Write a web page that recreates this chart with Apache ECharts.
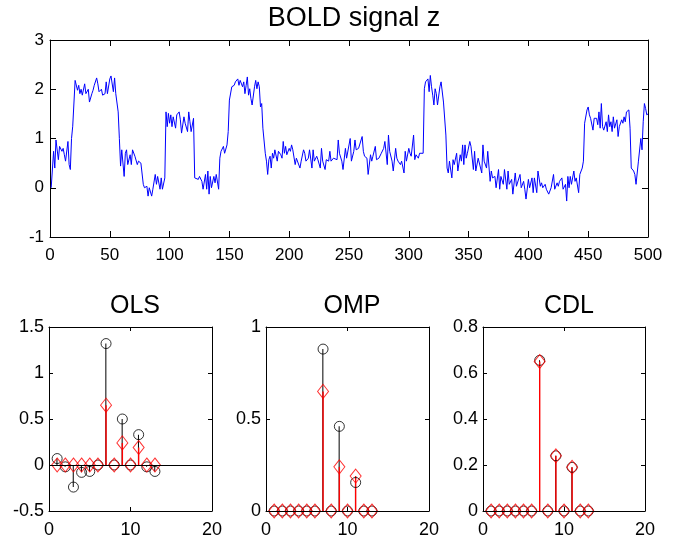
<!DOCTYPE html>
<html>
<head>
<meta charset="utf-8">
<script src="https://cdn.jsdelivr.net/npm/echarts@6/dist/echarts.min.js"></script>
<style>
html,body{margin:0;padding:0;background:#fff;}
#chart{width:690px;height:541px;}
</style>
</head>
<body>
<div id="chart"></div>
<script>
// ---- BOLD signal z: [time, value] samples ----
const boldSamples = [
[1,0.0],[3,0.74],[4,0.40],[5,0.97],[7,0.57],[8,0.84],[10,0.74],[11,0.80],[12,0.67],[13,0.54],[15,0.94],[16,0.47],[17,0.37],[18,1.0],[19,1.25],
[21,2.18],[23,1.98],[24,2.08],[25,1.91],[26,2.0],[27,1.88],[29,2.11],[30,1.91],[32,2.0],[33,1.74],[35,1.91],[36,1.98],[37,2.08],[39,2.23],[40,2.11],
[41,1.95],[43,2.0],[44,1.88],[46,1.91],[47,2.15],[48,1.91],[50,2.21],[51,2.27],[53,1.95],[54,2.23],[55,1.91],[57,1.54],[58,1.0],[59,0.44],[60,0.77],
[62,0.23],[63,0.70],[64,0.77],[65,0.47],[67,0.67],[68,0.47],[69,0.77],[71,0.64],[72,0.60],[73,0.47],[74,0.54],[76,0.50],[78,0.07],[79,0.0],[81,0.03],
[82,-0.17],[83,0.0],[85,-0.17],[86,-0.03],[88,0.27],[89,0.07],[90,0.23],[92,-0.03],[93,0.20],[94,-0.03],[96,0.20],[97,1.54],[98,1.24],[99,1.51],[100,1.31],
[101,1.48],[102,1.24],[103,1.44],[105,1.21],[106,1.48],[108,1.54],[109,1.38],[110,1.11],[112,1.44],[113,1.31],[115,1.14],[116,1.54],[117,1.34],[118,1.14],[120,1.41],
[121,0.20],[122,0.23],[124,0.17],[125,0.23],[127,0.13],[128,-0.03],[129,0.0],[130,0.27],[131,-0.03],[132,0.34],[133,-0.13],[134,0.23],[135,0.0],[137,0.23],[138,0.10],
[139,0.27],[141,-0.03],[142,0.60],[143,0.74],[145,0.84],[146,0.70],[148,0.87],[149,1.14],[150,1.78],[151,1.74],[152,2.05],[154,2.08],[155,2.15],[156,2.18],[157,2.21],
[158,2.08],[159,2.18],[161,2.05],[162,2.15],[163,1.91],[164,2.08],[165,2.25],[166,1.88],[167,2.01],[168,1.81],[169,1.68],[171,2.05],[172,2.18],[173,2.01],[174,2.15],
[175,2.05],[176,1.64],[177,1.71],[178,1.21],[180,0.70],[181,0.54],[182,0.27],[183,0.57],[184,0.64],[185,0.40],[186,0.70],[187,0.60],[188,0.77],[190,0.54],[191,0.74],
[192,0.77],[193,0.67],[194,0.60],[195,0.94],[196,0.70],[197,0.84],[198,0.67],[200,0.80],[201,0.74],[202,0.87],[203,0.77],[205,0.47],[206,0.60],[207,0.57],[209,0.40],
[210,0.54],[212,0.77],[213,0.70],[214,0.54],[216,0.60],[217,0.77],[219,0.40],[220,0.77],[221,0.54],[223,0.64],[224,0.57],[226,0.40],[227,0.80],[228,0.54],[230,0.37],
[231,0.57],[233,0.54],[234,0.74],[235,0.54],[237,0.60],[238,0.64],[240,0.57],[241,0.97],[242,0.70],[244,0.54],[245,0.37],[247,0.80],[248,0.60],[249,0.57],[251,1.00],
[252,0.54],[254,0.74],[255,0.97],[256,0.77],[258,0.80],[259,0.84],[261,1.04],[262,0.74],[263,0.64],[265,0.60],[266,0.27],[268,0.67],[269,0.54],[270,0.64],[272,0.84],
[273,0.57],[275,0.60],[276,0.64],[277,0.70],[279,0.80],[280,0.94],[282,0.47],[283,1.07],[284,0.74],[286,0.54],[287,0.34],[289,0.80],[290,0.60],[291,0.54],[293,0.47],
[294,0.54],[296,0.30],[297,0.74],[298,0.54],[300,0.80],[301,0.70],[302,0.64],[304,1.07],[305,0.57],[306,0.67],[308,0.60],[309,0.70],[310,0.74],[312,0.70],[313,2.01],
[314,2.15],[316,2.21],[317,1.95],[318,2.28],[319,2.05],[320,1.88],[321,1.68],[322,2.01],[323,1.91],[324,1.68],[326,2.05],[327,2.15],[328,2.11],[329,1.74],[330,1.74],
[331,1.07],[332,0.40],[333,0.30],[334,0.54],[336,0.20],[337,0.57],[338,0.47],[340,0.70],[341,0.34],[343,0.67],[344,0.54],[345,0.87],[346,0.47],[347,0.87],[348,0.60],
[349,0.70],[351,0.94],[352,0.84],[354,0.37],[355,0.74],[356,0.34],[358,0.60],[359,0.64],[361,0.30],[362,0.87],[363,0.54],[365,0.40],[366,0.74],[368,0.13],[369,0.34],
[370,0.20],[372,0.23],[373,0.0],[375,0.37],[376,-0.03],[377,0.23],[379,0.07],[380,0.37],[382,-0.03],[383,0.34],[384,0.07],[386,0.17],[387,-0.13],[389,0.30],[390,0.03],
[391,0.07],[393,0.27],[394,0.0],[396,0.13],[397,-0.03],[398,-0.23],[400,0.17],[401,0.0],[403,0.20],[404,-0.10],[405,0.20],[407,-0.10],[408,0.34],[410,0.03],[411,0.10],
[412,0.0],[414,0.07],[415,-0.03],[417,-0.13],[418,-0.13],[419,0.0],[421,0.27],[422,-0.03],[424,0.10],[425,0.03],[426,0.13],[428,0.20],[429,-0.03],[431,0.07],[432,-0.27],
[433,0.23],[434,0.0],[435,0.23],[436,0.07],[438,0.34],[439,0.13],[440,0.20],[442,-0.10],[443,0.27],[445,0.40],[446,0.54],[447,1.31],[448,1.34],[449,1.58],[450,1.64],
[451,1.48],[452,1.41],[454,1.17],[455,1.41],[456,1.38],[457,1.41],[458,1.28],[459,1.54],[460,1.21],[461,1.71],[462,1.24],[463,1.17],[465,1.34],[466,1.14],[467,1.48],
[468,1.24],[469,1.34],[470,1.14],[471,1.44],[472,1.21],[474,1.38],[475,1.04],[476,1.24],[477,1.28],[478,1.38],[479,1.31],[480,1.44],[481,1.34],[482,1.54],[484,1.58],
[485,1.21],[486,0.40],[487,0.44],[488,0.34],[489,0.27],[490,0.07],[491,0.03],[492,0.54],[494,1.0],[495,0.77],[496,1.34],[497,1.71],[498,1.61],[499,1.48],[500,1.50]
];

// ---- stem plots ----
const stemIdx   = [1,2,3,4,5,6,7,8,9,10,11,12,13];
const trueCoef  = [0,0,0,0,0,0,0.65,0,0.24,0,0.19,0,0];
const olsEst    = [0.07,-0.02,-0.24,-0.08,-0.07,0,1.32,0,0.50,0,0.33,-0.02,-0.07];
const ompEst    = [0,0,0,0,0,0,0.88,0,0.46,0,0.155,0,0];
const cdlEst    = [0,0,0,0,0,0,0.655,0,0.24,0,0.19,0,0];

const panelTitles = ['OLS','OMP','CDL'];
const panelEst = [olsEst, ompEst, cdlEst];
const panelY = [
  {min:-0.5, max:1.5, interval:0.5},
  {min:0, max:1, interval:0.5},
  {min:0, max:0.8, interval:0.2}
];

const FONT = 'Liberation Sans';
const grids = [
  {left:50, top:40, width:598, height:197},
  {left:49, top:327, width:163, height:184},
  {left:266, top:327, width:163, height:184},
  {left:483, top:327, width:162, height:184}
];

const xAxes = [], yAxes = [], series = [];
function addAxes(g, xr, yr, tickLen, fs, xMargin, yMargin){
  const base = {gridIndex:g, type:'value', splitLine:{show:false},
    axisLine:{show:true, onZero:false, lineStyle:{color:'#000', width:1}},
    axisTick:{show:true, inside:true, length:tickLen, lineStyle:{color:'#000'}}};
  xAxes.push(Object.assign({}, base, xr, {position:'bottom',
    axisLabel:{show:true, color:'#000', fontSize:fs, fontFamily:FONT, margin:xMargin}}));
  xAxes.push(Object.assign({}, base, xr, {position:'top', axisLabel:{show:false}}));
  yAxes.push(Object.assign({}, base, yr, {position:'left',
    axisLabel:{show:true, color:'#000', fontSize:fs, fontFamily:FONT, margin:yMargin}}));
  yAxes.push(Object.assign({}, base, yr, {position:'right', axisLabel:{show:false}}));
}

addAxes(0, {min:0, max:500, interval:50}, {min:-1, max:3, interval:1}, 6, 17, 10, 6);
series.push({type:'line', xAxisIndex:0, yAxisIndex:0, data:boldSamples,
  showSymbol:false, symbol:'none', lineStyle:{color:'#0000ff', width:1}, animation:false});

for (let p=0; p<3; p++){
  const g = p+1;
  addAxes(g, {min:0, max:20, interval:10}, panelY[p], 4, 18, 10, 5);
  const xi = 2*g, yi = 2*g;
  const est = panelEst[p];
  series.push({type:'bar', xAxisIndex:xi, yAxisIndex:yi, barWidth:1, barGap:'-100%',
    data: stemIdx.map((x,i)=>[x, est[i]]), itemStyle:{color:'#000'}, animation:false,
    markLine:{silent:true, symbol:'none', label:{show:false},
      lineStyle:{color:'#000', type:'solid', width:1}, data:[{yAxis:0}], animation:false}});
  series.push({type:'bar', xAxisIndex:xi, yAxisIndex:yi, barWidth:1.4, barGap:'-100%',
    data: stemIdx.map((x,i)=>[x, trueCoef[i]]), itemStyle:{color:'#ff0000'}, animation:false});
  series.push({type:'scatter', xAxisIndex:xi, yAxisIndex:yi, clip:false,
    data: stemIdx.map((x,i)=>[x, est[i]]), symbol:'circle', symbolSize:10,
    itemStyle:{color:'rgba(0,0,0,0)', borderColor:'#000', borderWidth:1}, animation:false, z:3});
  series.push({type:'scatter', xAxisIndex:xi, yAxisIndex:yi, clip:false,
    data: stemIdx.map((x,i)=>[x, trueCoef[i]]), symbol:'diamond', symbolSize:[11,14],
    itemStyle:{color:'rgba(0,0,0,0)', borderColor:'#ff0000', borderWidth:1}, animation:false, z:4});
}

const titleStyle = {color:'#000', fontSize:25, fontWeight:'normal', fontFamily:FONT};
const titles = [{text:'BOLD signal z', left:349, top:0, textAlign:'center',
  textStyle:Object.assign({}, titleStyle, {fontSize:27})}];
const centers = [130, 347, 564];
for (let p=0; p<3; p++){
  titles.push({text:panelTitles[p], left:centers[p], top:289, textAlign:'center', textStyle:titleStyle});
}

const chart = echarts.init(document.getElementById('chart'), null, {renderer:'canvas'});
chart.setOption({
  backgroundColor:'#fff',
  animation:false,
  title:titles,
  grid:grids.map(g=>Object.assign({show:false, containLabel:false}, g)),
  xAxis:xAxes,
  yAxis:yAxes,
  series:series
});
</script>
</body>
</html>
